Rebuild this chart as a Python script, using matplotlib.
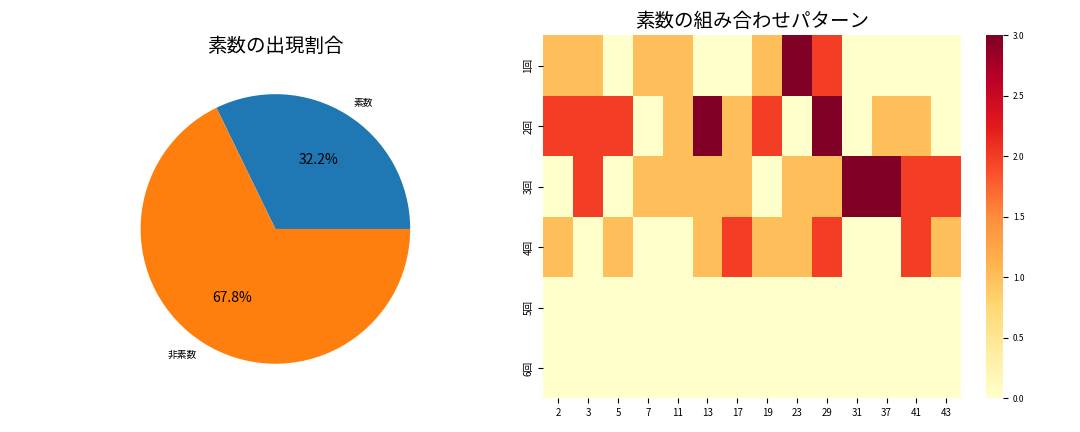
import matplotlib
matplotlib.use("Agg")
import matplotlib.pyplot as plt
import numpy as np
import seaborn as sns

plt.rcParams["font.family"] = "Noto Sans CJK JP"

pie_labels = ["素数", "非素数"]
pie_values = [19, 40]

primes = ["2", "3", "5", "7", "11", "13", "17", "19", "23", "29", "31", "37", "41", "43"]
rows = ["1回", "2回", "3回", "4回", "5回", "6回"]
r1 = [1, 1, 0, 1, 1, 0, 0, 1, 3, 2, 0, 0, 0, 0]
r2 = [2, 2, 2, 0, 1, 3, 1, 2, 0, 3, 0, 1, 1, 0]
r3 = [0, 2, 0, 1, 1, 1, 1, 0, 1, 1, 3, 3, 2, 2]
r4 = [1, 0, 1, 0, 0, 1, 2, 1, 1, 2, 0, 0, 2, 1]
r5 = [0] * 14
r6 = [0] * 14

fig = plt.figure(figsize=(10.8, 4.32), dpi=100)
ax1 = fig.add_axes([0.08, 0.08, 0.35, 0.78])
ax2 = fig.add_axes([0.503, 0.078, 0.387, 0.84])
cax = fig.add_axes([0.913, 0.078, 0.016, 0.84])

ax1.pie(pie_values, labels=pie_labels, autopct="%1.1f%%",
        colors=["#1f77b4", "#ff7f0e"], textprops={"fontsize": 7})
for t in ax1.texts:
    if "%" in t.get_text():
        t.set_fontsize(10)
ax1.set_title("素数の出現割合", fontsize=14)

data = np.array([r1, r2, r3, r4, r5, r6])
sns.heatmap(data, ax=ax2, cbar_ax=cax, cmap="YlOrRd", vmin=0, vmax=3,
            xticklabels=primes, yticklabels=rows)
ax2.tick_params(labelsize=7)
cax.tick_params(labelsize=6)
ax2.set_title("素数の組み合わせパターン", fontsize=14)

fig.savefig("out.png", dpi=100)
